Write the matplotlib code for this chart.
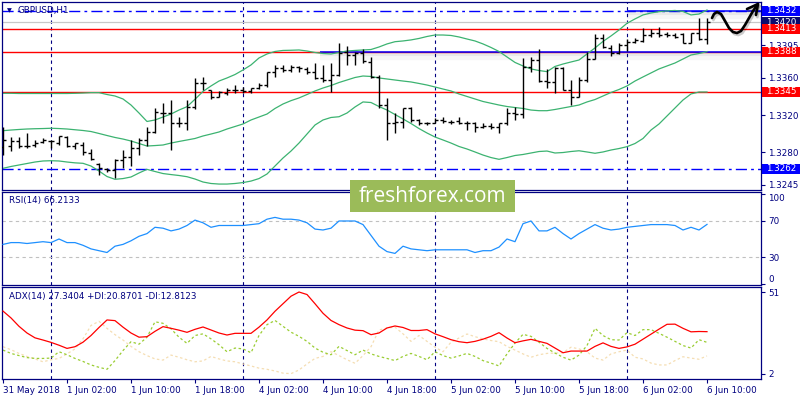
import matplotlib
matplotlib.use('Agg')
import matplotlib.pyplot as plt
import matplotlib.patheffects as pe
import matplotlib.transforms as mtransforms
from matplotlib.patches import Rectangle
from matplotlib.lines import Line2D
import numpy as np

plt.rcParams['font.family'] = ['DejaVu Sans']
NAVY = '#000080'
FS = 6.3

# ---------------- data (H1 bars, 31 May 18:00 .. 6 Jun 10:00) ----------------
bar_open = [1.32853, 1.32867, 1.32921, 1.32867, 1.32878, 1.32913, 1.32921, 1.32896, 1.32967, 1.32867,
            1.32878, 1.32789, 1.32673, 1.32616, 1.32609, 1.32716, 1.32752, 1.32842, 1.32932, 1.33021,
            1.33219, 1.33219, 1.33111, 1.33111, 1.33290, 1.33542, 1.33470, 1.33398, 1.33434, 1.33470,
            1.33470, 1.33462, 1.33488, 1.33523, 1.33667, 1.33703, 1.33685, 1.33720, 1.33692, 1.33667,
            1.33596, 1.33577, 1.33631, 1.33882, 1.33846, 1.33865, 1.33774, 1.33606, 1.33308, 1.33111,
            1.33129, 1.33273, 1.33147, 1.33111, 1.33118, 1.33147, 1.33129, 1.33136, 1.33118, 1.33118,
            1.33068, 1.33082, 1.33075, 1.33111, 1.33219, 1.33211, 1.33720, 1.33792, 1.33570, 1.33559,
            1.33703, 1.33470, 1.33398, 1.33577, 1.33800, 1.34026, 1.33916, 1.33868, 1.33954, 1.33986,
            1.34000, 1.34061, 1.34083, 1.34072, 1.34061, 1.34067, 1.33979, 1.34080, 1.34015]
bar_high = [1.33075, 1.32967, 1.32967, 1.33004, 1.32932, 1.32950, 1.32932, 1.32975, 1.32975, 1.32903,
            1.32913, 1.32832, 1.32681, 1.32627, 1.32724, 1.32824, 1.32932, 1.32950, 1.33075, 1.33273,
            1.33333, 1.33362, 1.33182, 1.33362, 1.33596, 1.33613, 1.33470, 1.33462, 1.33488, 1.33523,
            1.33505, 1.33488, 1.33542, 1.33667, 1.33739, 1.33739, 1.33739, 1.33728, 1.33720, 1.33757,
            1.33739, 1.33757, 1.33972, 1.33943, 1.33882, 1.33908, 1.33828, 1.33631, 1.33380, 1.33219,
            1.33273, 1.33290, 1.33154, 1.33129, 1.33165, 1.33176, 1.33147, 1.33182, 1.33139, 1.33129,
            1.33111, 1.33111, 1.33118, 1.33273, 1.33290, 1.33811, 1.33821, 1.33908, 1.33692, 1.33720,
            1.33720, 1.33577, 1.33613, 1.33882, 1.34069, 1.34069, 1.33954, 1.33970, 1.34018, 1.34024,
            1.34137, 1.34121, 1.34144, 1.34097, 1.34086, 1.34086, 1.34086, 1.34244, 1.34244]
bar_low = [1.32770, 1.32816, 1.32842, 1.32842, 1.32853, 1.32896, 1.32842, 1.32878, 1.32853, 1.32832,
           1.32770, 1.32716, 1.32555, 1.32591, 1.32520, 1.32627, 1.32652, 1.32770, 1.32867, 1.33004,
           1.33111, 1.32824, 1.33075, 1.33039, 1.33262, 1.33470, 1.33370, 1.33398, 1.33416, 1.33441,
           1.33434, 1.33434, 1.33477, 1.33505, 1.33613, 1.33667, 1.33667, 1.33667, 1.33642, 1.33585,
           1.33559, 1.33451, 1.33620, 1.33739, 1.33739, 1.33763, 1.33596, 1.33273, 1.32932, 1.33004,
           1.33058, 1.33129, 1.33093, 1.33093, 1.33111, 1.33118, 1.33104, 1.33104, 1.33039, 1.33021,
           1.33058, 1.33047, 1.33004, 1.33093, 1.33147, 1.33165, 1.33667, 1.33559, 1.33488, 1.33434,
           1.33470, 1.33308, 1.33398, 1.33559, 1.33800, 1.33918, 1.33835, 1.33857, 1.33889, 1.33972,
           1.33986, 1.34040, 1.34043, 1.34043, 1.34026, 1.33972, 1.33972, 1.34008, 1.33965]
bar_close = [1.32932, 1.32921, 1.32867, 1.32867, 1.32896, 1.32932, 1.32921, 1.32975, 1.32867, 1.32896,
             1.32806, 1.32724, 1.32627, 1.32609, 1.32716, 1.32752, 1.32842, 1.32932, 1.33021, 1.33236,
             1.33225, 1.33111, 1.33111, 1.33290, 1.33542, 1.33542, 1.33398, 1.33451, 1.33470, 1.33470,
             1.33462, 1.33488, 1.33523, 1.33667, 1.33703, 1.33685, 1.33720, 1.33703, 1.33667, 1.33596,
             1.33577, 1.33631, 1.33865, 1.33846, 1.33865, 1.33785, 1.33606, 1.33308, 1.33111, 1.33129,
             1.33273, 1.33147, 1.33111, 1.33118, 1.33147, 1.33139, 1.33129, 1.33118, 1.33111, 1.33068,
             1.33082, 1.33075, 1.33118, 1.33219, 1.33211, 1.33720, 1.33792, 1.33570, 1.33559, 1.33703,
             1.33470, 1.33398, 1.33577, 1.33800, 1.34026, 1.33936, 1.33868, 1.33954, 1.33989, 1.34008,
             1.34061, 1.34080, 1.34061, 1.34061, 1.34043, 1.33979, 1.34083, 1.34015, 1.34201]

bb_upper = [1.33434, 1.33434, 1.33432, 1.33432, 1.33432, 1.33432, 1.33432, 1.33432, 1.33432, 1.33434,
            1.33437, 1.33441, 1.33441, 1.33421, 1.33405, 1.33373, 1.33308, 1.33222, 1.33131, 1.33147,
            1.33179, 1.33211, 1.33254, 1.33290, 1.33370, 1.33454, 1.33513, 1.33566, 1.33599, 1.33636,
            1.33685, 1.33739, 1.33814, 1.33857, 1.33884, 1.33895, 1.33897, 1.33900, 1.33889, 1.33873,
            1.33862, 1.33857, 1.33873, 1.33889, 1.33895, 1.33900, 1.33905, 1.33932, 1.33965, 1.33989,
            1.33997, 1.34008, 1.34024, 1.34045, 1.34061, 1.34061, 1.34056, 1.34040, 1.34018, 1.33997,
            1.33965, 1.33927, 1.33884, 1.33825, 1.33766, 1.33728, 1.33696, 1.33679, 1.33667, 1.33723,
            1.33749, 1.33771, 1.33792, 1.33857, 1.33922, 1.33992, 1.34051, 1.34115, 1.34187, 1.34234,
            1.34277, 1.34298, 1.34312, 1.34320, 1.34325, 1.34314, 1.34277, 1.34287, 1.34330]
bb_middle = [1.33032, 1.33039, 1.33045, 1.33050, 1.33053, 1.33055, 1.33058, 1.33055, 1.33050, 1.33042,
             1.33034, 1.33023, 1.33002, 1.32980, 1.32959, 1.32942, 1.32921, 1.32894, 1.32867, 1.32872,
             1.32878, 1.32899, 1.32916, 1.32932, 1.32948, 1.32975, 1.32996, 1.33018, 1.33050, 1.33077,
             1.33104, 1.33147, 1.33179, 1.33211, 1.33271, 1.33319, 1.33355, 1.33384, 1.33421, 1.33459,
             1.33491, 1.33518, 1.33550, 1.33577, 1.33604, 1.33620, 1.33615, 1.33599, 1.33588, 1.33577,
             1.33566, 1.33556, 1.33540, 1.33523, 1.33502, 1.33480, 1.33459, 1.33427, 1.33400, 1.33373,
             1.33346, 1.33327, 1.33308, 1.33292, 1.33281, 1.33271, 1.33254, 1.33247, 1.33247, 1.33260,
             1.33276, 1.33292, 1.33308, 1.33341, 1.33367, 1.33405, 1.33443, 1.33475, 1.33513, 1.33566,
             1.33610, 1.33653, 1.33696, 1.33728, 1.33760, 1.33803, 1.33846, 1.33862, 1.33882]
bb_lower = [1.32627, 1.32647, 1.32663, 1.32679, 1.32695, 1.32706, 1.32709, 1.32706, 1.32695, 1.32686,
            1.32681, 1.32652, 1.32598, 1.32539, 1.32509, 1.32517, 1.32534, 1.32577, 1.32616, 1.32593,
            1.32571, 1.32560, 1.32550, 1.32537, 1.32512, 1.32480, 1.32464, 1.32458, 1.32458, 1.32464,
            1.32474, 1.32490, 1.32517, 1.32566, 1.32652, 1.32738, 1.32813, 1.32899, 1.32996, 1.33093,
            1.33147, 1.33174, 1.33182, 1.33222, 1.33287, 1.33341, 1.33335, 1.33292, 1.33254, 1.33206,
            1.33158, 1.33109, 1.33055, 1.33007, 1.32964, 1.32932, 1.32899, 1.32862, 1.32835, 1.32803,
            1.32770, 1.32743, 1.32724, 1.32743, 1.32765, 1.32776, 1.32792, 1.32808, 1.32813, 1.32792,
            1.32797, 1.32808, 1.32816, 1.32803, 1.32789, 1.32803, 1.32824, 1.32840, 1.32860, 1.32894,
            1.32948, 1.33039, 1.33104, 1.33190, 1.33276, 1.33362, 1.33427, 1.33448, 1.33448]

rsi = [44, 46, 46, 45, 46, 47, 46, 50, 46, 46, 43, 39, 37, 35, 42, 44, 48, 53, 56, 63,
       62, 59, 61, 65, 71, 68, 63, 65, 65, 65, 65, 66, 67, 72, 74, 72, 72, 71, 68, 61,
       60, 62, 70, 70, 70, 66, 54, 42, 36, 34, 42, 39, 38, 37, 38, 38, 38, 38, 38, 35,
       37, 37, 41, 50, 47, 67, 70, 59, 59, 63, 56, 50, 56, 61, 66, 62, 60, 61, 63, 64,
       65, 66, 66, 66, 65, 60, 63, 60, 66.2]

adx = [39.6, 35.5, 30.5, 26.5, 23.6, 22.3, 20.9, 19.2, 17.3, 18.3, 21, 25, 29.8, 34.3, 33.9, 30, 26.5, 24, 24.3, 27.5,
       30.3, 29.3, 28.2, 26.9, 28.7, 30.1, 28.3, 26.5, 25.3, 26.3, 26.3, 26.3, 30, 34.3, 39.5, 44, 48.5, 51, 49.5, 44,
       38.3, 34, 31.5, 29.5, 28.2, 27.9, 25.5, 26.5, 29.5, 30.7, 29.8, 28, 28, 28.5, 26, 24.3, 22.5, 21.3, 20.7, 21.5,
       22.8, 24.5, 26.7, 23.5, 20.7, 21.8, 22.7, 21.5, 20.3, 17.5, 14.7, 15.7, 15.7, 15.7, 18.5, 20.6, 18.5, 17.3, 18.2, 19.8,
       22.8, 25.8, 28.8, 31.7, 31.8, 29.3, 27.2, 27.4, 27.3]
plus_di = [16.3, 14.3, 13, 11.8, 11.3, 11.3, 11.5, 15.3, 13.5, 11.3, 9.5, 7.4, 6, 4.8, 10, 16, 21.3, 19.8, 24, 33.2,
           32.3, 29, 24, 20.3, 25, 26, 23, 19.5, 15.3, 17.5, 17, 14.7, 25, 31.5, 34, 30.5, 27, 24.5, 21.5, 17.5,
           15, 13.5, 18.5, 16, 13.5, 16.3, 14, 12.5, 11.3, 10, 12.5, 14.3, 12.5, 10.5, 15.3, 13, 11.5, 12.8, 14.3, 12.5,
           10, 8.5, 6.8, 14, 20.5, 25.7, 24.5, 21, 17.3, 14.5, 12, 10.3, 13.3, 19, 29.3, 25, 22.5, 22.3, 26.7, 25,
           28.5, 28.5, 26.3, 24, 21.5, 19, 17.5, 22.5, 20.9]
minus_di = [18.3, 16.5, 14.3, 12.5, 11, 9.3, 10.5, 11.3, 14, 17, 23, 31, 33.5, 29.3, 25.5, 22.3, 18.5, 15.3, 13, 11,
            10.3, 13.3, 12, 10.5, 9.3, 9.8, 12.5, 11, 9.8, 9.3, 8, 6.8, 5.5, 4.8, 3.8, 2.5, 2.2, 4.4, 8, 11.3,
            12.5, 15.3, 13, 10.5, 8.4, 13, 18.3, 28.3, 29.5, 30, 26, 21.5, 25, 21.5, 18, 15.3, 21, 23.5, 25.9, 24.3,
            23, 22, 21.3, 18.5, 16.3, 14, 12, 13.5, 14.3, 14.5, 14.7, 18, 17, 15.3, 11.5, 10.3, 14, 15.3, 16.3, 12,
            11, 8.5, 7.4, 7.4, 10, 12.3, 11.5, 10.8, 12.8]

tick_bars = [0, 8, 16, 24, 32, 40, 48, 56, 64, 72, 80, 88]
tick_labels = ['31 May 2018', '1 Jun 02:00', '1 Jun 10:00', '1 Jun 18:00', '4 Jun 02:00', '4 Jun 10:00',
               '4 Jun 18:00', '5 Jun 02:00', '5 Jun 10:00', '5 Jun 18:00', '6 Jun 02:00', '6 Jun 10:00']
day_separators = [6, 30, 54, 78]

red_levels = [1.3413, 1.3388, 1.3345]
blue_levels = [1.3432, 1.3262]
bid_price = 1.3420
channel_lines = [(1.3388, 39.6), (1.3432, 78.0)]   # (price, starting bar)
price_ticks = [1.3395, 1.3360, 1.3320, 1.3280, 1.3245]
price_boxes = [(1.3420, '#0a0a6e'), (1.3432, '#0000ff'), (1.3413, '#ff0000'),
               (1.3388, '#ff0000'), (1.3345, '#ff0000'), (1.3262, '#0000ff')]

n = len(bar_close)
idx = np.arange(n)

# ---------------- figure ----------------
W, H = 800, 400
fig = plt.figure(figsize=(8, 4), dpi=100)
fig.patch.set_facecolor('white')

def px_axes(x0, y0, x1, y1):
    return fig.add_axes([x0 / W, 1 - y1 / H, (x1 - x0) / W, (y1 - y0) / H])

ax = px_axes(2, 2, 761, 190)
ax_rsi = px_axes(2, 192, 761, 285)
ax_adx = px_axes(2, 287, 761, 379)

XL = (-0.125, 94.75)
for a in (ax, ax_rsi, ax_adx):
    a.set_xlim(*XL)
    a.set_facecolor('white')
    for s in a.spines.values():
        s.set_color(NAVY)
        s.set_linewidth(0.9)
    a.yaxis.tick_right()
    a.tick_params(axis='y', which='both', direction='out', length=3, width=0.8,
                  color=NAVY, labelcolor=NAVY, labelsize=FS, pad=2, left=False)
    a.tick_params(axis='x', bottom=False, labelbottom=False)
    for d in day_separators:
        a.axvline(d, color=NAVY, lw=0.8, linestyle=(0, (3, 3)), zorder=1)

# ---------------- price panel ----------------
ax.set_ylim(1.32394, 1.34416)
ax.set_yticks(price_ticks)
ax.set_yticklabels(['%.4f' % p for p in price_ticks])
for lbl in ax.get_yticklabels():
    lbl.set_ha('left')

ax.axhline(bid_price, color='#c8c8c8', lw=0.9, zorder=1)
for p in red_levels:
    ax.axhline(p, color='#ff0000', lw=1.0, zorder=1.2)
for p in blue_levels:
    ax.axhline(p, color='#0000ff', lw=1.0, linestyle=(0, (8, 3, 2, 3)), zorder=1.2)
shadow = [pe.SimpleLineShadow(offset=(0, -3.0), shadow_color='#000000', alpha=0.035, linewidth=6),
          pe.SimpleLineShadow(offset=(0, -1.8), shadow_color='#000000', alpha=0.05, linewidth=3),
          pe.Normal()]
for p, start in channel_lines:
    ax.plot([start, XL[1]], [p, p], color='#0000ff', lw=1.1, zorder=1.4,
            path_effects=shadow, solid_capstyle='butt')

bb_col = '#3cb371'
ax.plot(idx, bb_upper, color=bb_col, lw=0.9, zorder=2)
ax.plot(idx, bb_middle, color=bb_col, lw=0.9, zorder=2)
ax.plot(idx, bb_lower, color=bb_col, lw=0.9, zorder=2)

ax.vlines(idx, bar_low, bar_high, color='black', lw=1.0, zorder=3)
ax.hlines(bar_open, idx - 0.42, idx, color='black', lw=1.0, zorder=3)
ax.hlines(bar_close, idx, idx + 0.42, color='black', lw=1.0, zorder=3)

# price label boxes on right scale (later boxes cover earlier ones, as in the terminal)
bt = mtransforms.blended_transform_factory(ax.transAxes, ax.transData)
half_h = 5 * (1.34416 - 1.32394) / 188.0
x0f = (762 - 2) / 759.0
x1f = (800 - 2) / 759.0
for k, (p, col) in enumerate(price_boxes):
    ax.add_patch(Rectangle((x0f, p - half_h), x1f - x0f, 2 * half_h, transform=bt,
                           facecolor=col, edgecolor='none', clip_on=False, zorder=6 + 2 * k))
    ax.text((766 - 2) / 759.0, p, '%.4f' % p, transform=bt, ha='left', va='center',
            fontsize=FS, color='white', clip_on=False, zorder=7 + 2 * k)

fig.text(7 / W, 1 - 10.5 / H, '\u25bc', fontsize=4.5, color=NAVY, ha='left', va='center')
fig.text(17 / W, 1 - 10.5 / H, 'GBPUSD,H1', fontsize=FS, color=NAVY, ha='left', va='center')

# hand-drawn arrow
arrow_px = [(712, 18), (714, 14), (717, 12), (721, 14), (725, 21), (729, 28), (733, 32), (737, 33),
            (741, 31), (745, 25), (749, 18), (753, 11), (758, 4)]
head_px = [(747, 9), (758, 4), (756, 15)]
for pts in (arrow_px, head_px):
    xs = [x / W for x, y in pts]
    ys = [1 - y / H for x, y in pts]
    ln = Line2D(xs, ys, transform=fig.transFigure, color='black', lw=1.9,
                solid_capstyle='round', solid_joinstyle='round', zorder=30,
                path_effects=[pe.SimpleLineShadow(offset=(1, -1.5), alpha=0.2), pe.Normal()])
    fig.add_artist(ln)

# ---------------- RSI panel ----------------
ax_rsi.set_ylim(-1.1, 102.2)
for lvl in (70, 30):
    ax_rsi.axhline(lvl, color='#c0c0c0', lw=0.8, linestyle=(0, (3, 3)), zorder=1)
ax_rsi.plot(idx, rsi, color='#1e90ff', lw=0.9, zorder=3)
ax_rsi.set_yticks([100, 70, 30, 0])
ax_rsi.set_yticklabels(['100', '70', '30', '0'])
ticks = ax_rsi.yaxis.get_major_ticks()
ticks[0].label2.set_va('top')
ticks[3].label2.set_va('bottom')
ax_rsi.text(7 / 759, 1 - 9 / 93, 'RSI(14) 66.2133', transform=ax_rsi.transAxes,
            fontsize=FS, color=NAVY, ha='left', va='center')

# ---------------- ADX panel ----------------
ax_adx.set_ylim(-1, 54)
ax_adx.plot(idx, minus_di, color='#f5deb3', lw=0.9, linestyle=(0, (2, 2)), zorder=2)
ax_adx.plot(idx, plus_di, color='#9acd32', lw=0.9, linestyle=(0, (2, 2)), zorder=2.5)
ax_adx.plot(idx, adx, color='#ff0000', lw=0.9, zorder=3)
ax_adx.set_yticks([51, 2])
ax_adx.set_yticklabels(['51', '2'])
ax_adx.text(7 / 759, 1 - 9 / 92, 'ADX(14) 27.3404 +DI:20.8701 -DI:12.8123',
            transform=ax_adx.transAxes, fontsize=FS, color=NAVY, ha='left', va='center')
ax_adx.tick_params(axis='x', bottom=True, labelbottom=True, direction='out', length=3,
                   width=0.8, color=NAVY, labelcolor=NAVY, labelsize=FS, pad=2)
ax_adx.set_xticks(tick_bars)
ax_adx.set_xticklabels(tick_labels)
for lbl in ax_adx.get_xticklabels():
    lbl.set_ha('left')

# ---------------- watermark ----------------
fig.add_artist(Rectangle((350 / W, 1 - 212 / H), 165 / W, 32 / H, transform=fig.transFigure,
                         facecolor='#9bbb59', edgecolor='none', zorder=20))
fig.text(432.5 / W, 1 - 196 / H, 'freshforex.com', fontsize=15, color='white',
         family='Open Sans', ha='center', va='center', zorder=21)

fig.savefig('out.png', dpi=100, facecolor='white')
